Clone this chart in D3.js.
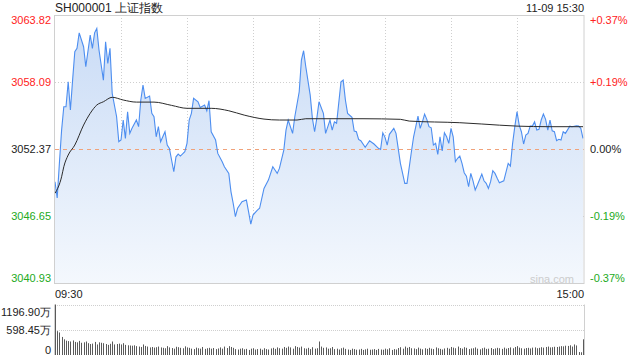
<!DOCTYPE html>
<html><head><meta charset="utf-8">
<script src="https://cdn.jsdelivr.net/npm/d3@7"></script>
<style>
html,body{margin:0;padding:0;background:#fff;}
svg{display:block;font-family:Arial,"Liberation Sans",sans-serif;}
</style></head>
<body><svg id="c" width="640" height="360"></svg>
<script>
const title = "SH000001 上证指数";
const stamp = "11-09 15:30";
const prevClose = 3052.37;
const leftTicks = [3063.82, 3058.09, 3052.37, 3046.65, 3040.93];
const rightTicks = ["+0.37%", "+0.19%", "0.00%", "-0.19%", "-0.37%"];
const timeLabels = ["09:30", "15:00"];
const volTicks = ["1196.90万", "598.45万", "0"];
const volMax = 1196.90;

// price: minute index (0..240) and price
const priceMin = [0,1,2,3,4,5,6,7,8,9,10,11,13,14,16,17,18,19,20,22,23,24,25,26,28,29,30,31,32,33,34,35,37,38,39,40,41,43,44,45,46,47,48,50,51,52,54,55,56,57,59,60,61,62,63,65,66,68,69,70,71,73,74,76,77,79,80,81,82,83,85,87,88,89,90,92,93,95,97,99,100,101,102,104,105,106,108,109,111,112,113,114,116,117,118,119,120,122,123,125,126,127,128,130,131,132,133,135,136,137,138,139,141,143,145,147,148,149,150,151,152,154,155,157,158,159,160,162,163,165,166,167,168,169,170,171,172,173,174,175,176,177,178,179,180,181,182,183,184,185,186,187,188,189,190,191,192,194,195,196,197,198,199,200,201,202,204,206,207,208,209,210,211,212,213,214,215,216,217,218,219,220,221,222,223,224,225,226,227,228,229,230,231,232,234,235,237,238,239,240];
const priceVal = [3049.58,3048.19,3051.17,3053.99,3055.98,3055.98,3058.12,3055.70,3058.26,3060.68,3060.97,3062.30,3061.11,3059.40,3062.11,3060.97,3062.30,3062.68,3060.83,3058.26,3061.53,3059.69,3060.97,3057.13,3055.13,3052.99,3053.14,3054.85,3053.28,3055.56,3053.71,3054.14,3054.85,3054.28,3056.56,3057.84,3056.70,3056.90,3055.42,3055.13,3053.42,3054.28,3052.99,3053.85,3052.71,3052.43,3050.43,3051.71,3051.94,3051.77,3052.14,3052.86,3054.85,3055.42,3056.70,3056.41,3055.93,3056.13,3055.64,3056.50,3053.85,3053.14,3052.00,3051.29,3050.86,3050.29,3048.72,3047.73,3046.59,3047.31,3047.87,3048.01,3047.01,3045.96,3046.73,3047.16,3047.31,3049.01,3049.72,3050.86,3050.58,3050.29,3050.72,3052.28,3053.99,3054.85,3053.71,3055.13,3057.26,3059.97,3060.77,3059.40,3056.98,3054.99,3053.85,3054.99,3056.41,3055.42,3053.71,3054.85,3053.99,3054.70,3054.57,3058.12,3058.26,3056.56,3055.42,3055.08,3053.91,3053.85,3053.20,3053.08,3052.52,3053.08,3052.80,3052.43,3052.34,3053.76,3053.37,3052.71,3053.63,3054.14,3053.71,3051.15,3050.29,3049.44,3049.44,3052.14,3053.42,3055.19,3054.14,3054.70,3055.36,3054.91,3054.28,3054.19,3052.71,3052.86,3051.92,3053.42,3052.22,3053.76,3053.42,3052.86,3054.14,3053.42,3051.29,3051.58,3051.77,3051.15,3050.35,3050.06,3049.15,3050.29,3049.66,3048.87,3049.30,3050.23,3049.66,3049.44,3049.01,3049.58,3050.52,3050.29,3049.87,3049.49,3049.66,3051.15,3050.92,3052.86,3054.28,3055.56,3054.42,3053.85,3052.80,3053.57,3053.71,3054.33,3054.33,3054.70,3053.99,3054.05,3054.85,3055.36,3054.91,3053.99,3054.85,3053.93,3053.85,3053.08,3053.20,3053.14,3053.85,3053.71,3054.33,3054.28,3054.36,3054.33,3054.14,3053.28];

// average price line
const avgMin = [0,3,4,6,9,13,16,19,22,26,31,37,45,53,60,71,79,86,95,102,110,114,130,140,157,161,184,194,210,225,240];
const avgVal = [3048.59,3050.00,3050.86,3051.86,3052.71,3054.42,3055.42,3056.13,3056.41,3056.79,3056.56,3056.38,3056.38,3056.10,3055.85,3055.85,3055.64,3055.27,3054.93,3054.85,3054.85,3054.96,3054.96,3054.96,3054.91,3054.76,3054.62,3054.51,3054.33,3054.28,3054.28];

// volume per minute (万)
const volume = [1196.9,
566,534,428,372,340,
330,320,345,310,300,335,290,300,320,280,260,270,310,250,300,
290,280,260,240,265,320,250,260,270,250,280,240,230,225,
220,230,210,200,190,250,215,200,180,190,175,185,200,180,170,160,210,180,165,150,195,185,170,160,205,180,
170,150,140,175,160,150,190,145,160,170,150,165,140,155,180,150,200,165,210,190,
170,140,130,150,160,135,145,120,150,160,130,140,150,125,160,140,130,155,170,145,
180,160,150,190,170,200,180,150,210,190,175,200,160,150,170,140,185,150,160,320,
200,170,180,150,160,190,140,150,130,160,175,145,130,120,150,140,125,130,145,120,
135,150,125,130,140,120,145,130,125,150,135,160,120,140,130,165,185,150,200,170,
190,160,155,140,175,150,135,160,145,170,150,140,180,160,145,130,155,170,150,190,
175,160,200,165,150,185,170,140,155,160,180,150,135,160,175,145,150,165,140,155,
170,160,145,175,150,165,180,160,190,210,175,160,150,165,170,155,175,180,160,170,
185,175,190,200,180,185,195,190,200,210,205,220,215,230,200,250,226,70,65,372];

const svg = d3.select("#c");
const X0 = 55, X1 = 584, T = 15, B = 283, VT = 304.5, VB = 355;
const x = d3.scaleLinear().domain([0, 240]).range([X0, X1 - 1]);
const y = d3.scaleLinear().domain([leftTicks[4], leftTicks[0]]).range([B, T]);
const yv = d3.scaleLinear().domain([0, volMax]).range([VB, VT]);

// gradient
const defs = svg.append("defs");
const g = defs.append("linearGradient").attr("id","ga").attr("x1",0).attr("y1",0).attr("x2",0).attr("y2",1);
g.append("stop").attr("offset","0%").attr("stop-color","#cadcf6");
g.append("stop").attr("offset","100%").attr("stop-color","#f4f8fd");

// grid
const grid = svg.append("g");
for (let k = 1; k < 8; k++) {
  const gx = Math.round(x(k * 30)) + 0.5;
  grid.append("line").attr("x1",gx).attr("x2",gx).attr("y1",T).attr("y2",B)
    .attr("stroke","#cfcfcf").attr("stroke-dasharray","1,2");
}
[leftTicks[1], leftTicks[3]].forEach(v => {
  const gy = Math.round(y(v)) + 0.5;
  grid.append("line").attr("x1",X0).attr("x2",X1).attr("y1",gy).attr("y2",gy)
    .attr("stroke","#cfcfcf").attr("stroke-dasharray","1,2");
});

// area + line
const pts = priceMin.map((m, i) => [m, priceVal[i]]);
svg.append("path").datum(pts)
  .attr("d", d3.area().x(d => x(d[0])).y0(B).y1(d => y(d[1])))
  .attr("fill","url(#ga)");

// zero line
const zy = Math.round(y(prevClose)) + 0.5;
svg.append("line").attr("x1",X0).attr("x2",X1).attr("y1",zy).attr("y2",zy)
  .attr("stroke","#f0a27a").attr("stroke-dasharray","4,4");

svg.append("path").datum(pts)
  .attr("d", d3.line().x(d => x(d[0])).y(d => y(d[1])))
  .attr("fill","none").attr("stroke","#4d8ef0").attr("stroke-width",1.1);

const apts = avgMin.map((m, i) => [m, avgVal[i]]);
svg.append("path").datum(apts)
  .attr("d", d3.line().curve(d3.curveMonotoneX).x(d => x(d[0])).y(d => y(d[1])))
  .attr("fill","none").attr("stroke","#2b2b2b").attr("stroke-width",1);

// frame
svg.append("rect").attr("x",X0 - 0.5).attr("y",T + 0.5).attr("width",X1 - X0 + 0.5).attr("height",B - T)
  .attr("fill","none").attr("stroke","#d0d0d0");

// labels
const f = 11;
const colL = ["#f22","#f22","#222","#2a2","#2a2"];
const labY = [20, y(leftTicks[1]), y(leftTicks[2]), y(leftTicks[3]), 278];
leftTicks.forEach((v, i) => {
  svg.append("text").attr("x",51).attr("y",labY[i]).attr("dy","0.35em").attr("text-anchor","end")
    .attr("font-size",f).attr("fill",colL[i]).text(v.toFixed(2));
  svg.append("text").attr("x",590).attr("y",labY[i]).attr("dy","0.35em").attr("text-anchor","start")
    .attr("font-size",f).attr("fill",colL[i]).text(rightTicks[i]);
});
svg.append("text").attr("x",55).attr("y",8).attr("dy","0.35em").attr("font-size",12).attr("fill","#222").text(title);
svg.append("text").attr("x",584).attr("y",8).attr("dy","0.35em").attr("text-anchor","end").attr("font-size",11).attr("fill","#222").text(stamp);
svg.append("text").attr("x",55).attr("y",294).attr("dy","0.35em").attr("font-size",11).attr("fill","#222").text(timeLabels[0]);
svg.append("text").attr("x",584).attr("y",294).attr("dy","0.35em").attr("text-anchor","end").attr("font-size",11).attr("fill","#222").text(timeLabels[1]);
svg.append("text").attr("x",574).attr("y",279).attr("dy","0.35em").attr("text-anchor","end").attr("font-size",11).attr("fill","#cccccc").text("sina.com");

// volume panel
[VT, yv(volMax / 2)].forEach(v => {
  const gy = Math.round(v) + 0.5;
  svg.append("line").attr("x1",X0).attr("x2",X1).attr("y1",gy).attr("y2",gy)
    .attr("stroke","#cfcfcf").attr("stroke-dasharray","1,1");
});
svg.append("line").attr("x1",X0 - 0.5).attr("x2",X0 - 0.5).attr("y1",VT).attr("y2",VB).attr("stroke","#d0d0d0");
svg.append("line").attr("x1",X1 + 0.5).attr("x2",X1 + 0.5).attr("y1",VT).attr("y2",VB).attr("stroke","#d0d0d0");
svg.append("g").selectAll("rect").data(volume).join("rect")
  .attr("x",(d, i) => Math.round(x(i)))
  .attr("y",d => yv(d)).attr("width",1).attr("height",d => VB - yv(d))
  .attr("fill","#5a5a5a");
const vLabY = [312, yv(volMax / 2), 350];
volTicks.forEach((t, i) => {
  svg.append("text").attr("x",51).attr("y",vLabY[i]).attr("dy","0.35em").attr("text-anchor","end")
    .attr("font-size",f).attr("fill","#222").text(t);
});
</script></body></html>
